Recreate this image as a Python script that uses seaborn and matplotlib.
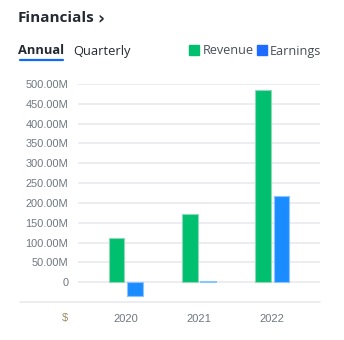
import matplotlib
matplotlib.use("Agg")
import matplotlib.pyplot as plt
import matplotlib.lines as mlines
import matplotlib.patches as mpatches
import seaborn as sns
import pandas as pd

years = ["2020", "2021", "2022"]
revenue = [112e6, 172.5e6, 484e6]
earnings = [-35e6, 4e6, 218e6]
series_names = ["Revenue", "Earnings"]
ytick_values = [0, 50e6, 100e6, 150e6, 200e6, 250e6, 300e6, 350e6, 400e6, 450e6, 500e6]

GREEN = "#00BF6F"
BLUE = "#1A8CFF"
GRID = "#EBEBF0"
TICK = "#6E7780"

df = pd.DataFrame({
    "year": years * 2,
    "value": revenue + earnings,
    "series": [series_names[0]] * 3 + [series_names[1]] * 3,
})

sns.set_style("white")
plt.rcParams["font.family"] = ["Liberation Sans", "DejaVu Sans"]

fig = plt.figure(figsize=(3.44, 3.40), dpi=100)
ax = fig.add_axes([78 / 344, 38 / 340, 242 / 344, 218 / 340])

sns.barplot(data=df, x="year", y="value", hue="series", order=years,
            hue_order=series_names, palette=[GREEN, BLUE], width=0.5, gap=0.13,
            ax=ax, legend=False, saturation=1, linewidth=0.8)
for p, c in zip(ax.patches, [GREEN] * 3 + [BLUE] * 3):
    p.set_edgecolor("#8fd8b5" if c == GREEN else "#8cc4ff")
    p.set_zorder(3)

ax.set_xlim(-0.65, 2.65)
ax.set_ylim(-50e6, 500e6)
ax.set_yticks(ytick_values)
ax.set_yticklabels(["0" if v == 0 else f"{v/1e6:.2f}M" for v in ytick_values])
for v in ytick_values:
    ax.axhline(v, color=GRID, lw=1.3, zorder=1)
ax.set_xlabel("")
ax.set_ylabel("")
for s in ax.spines.values():
    s.set_visible(False)
ax.tick_params(axis="y", length=0, pad=7, labelsize=7.9, labelcolor=TICK)
ax.tick_params(axis="x", length=0, pad=9, labelsize=8, labelcolor=TICK)

# baseline spanning below labels
fig.add_artist(mlines.Line2D([20 / 344, 320 / 344], [38 / 340, 38 / 340],
                             color=GRID, lw=1.3, transform=fig.transFigure))
fig.text(65 / 344, 1 - 318 / 340, "$", ha="center", va="center",
         fontsize=8, color="#9A8A5E")

# header
fig.text(18 / 344, 1 - 18 / 340, "Financials", ha="left", va="center",
         fontsize=11, fontweight="bold", color="#232A31", family=["Open Sans", "DejaVu Sans"])
fig.text(97 / 344, 1 - 19 / 340, "›", ha="left", va="center",
         fontsize=12, fontweight="bold", color="#232A31", family=["DejaVu Sans"])
fig.text(18 / 344, 1 - 51 / 340, "Annual", ha="left", va="center",
         fontsize=9.3, fontweight="bold", color="#232A31", family=["Open Sans", "DejaVu Sans"])
fig.add_artist(mlines.Line2D([20 / 344, 63 / 344], [1 - 60 / 340, 1 - 60 / 340],
                             color="#0F69FF", lw=1.6, transform=fig.transFigure))
fig.text(73 / 344, 1 - 51 / 340, "Quarterly", ha="left", va="center",
         fontsize=9.3, color="#232A31", family=["Open Sans", "DejaVu Sans"])

fig.add_artist(mpatches.Rectangle((189 / 344, 1 - 55 / 340), 10 / 344, 10 / 340,
                                  color=GREEN, transform=fig.transFigure))
fig.text(203 / 344, 1 - 51 / 340, series_names[0], ha="left", va="center",
         fontsize=9.1, color="#464E56", family=["Open Sans", "DejaVu Sans"])
fig.add_artist(mpatches.Rectangle((257 / 344, 1 - 55 / 340), 10 / 344, 10 / 340,
                                  color="#1D6BFF", transform=fig.transFigure))
fig.text(270 / 344, 1 - 51 / 340, series_names[1], ha="left", va="center",
         fontsize=9.1, color="#464E56", family=["Open Sans", "DejaVu Sans"])

fig.savefig("out.png", dpi=100, facecolor="white")
